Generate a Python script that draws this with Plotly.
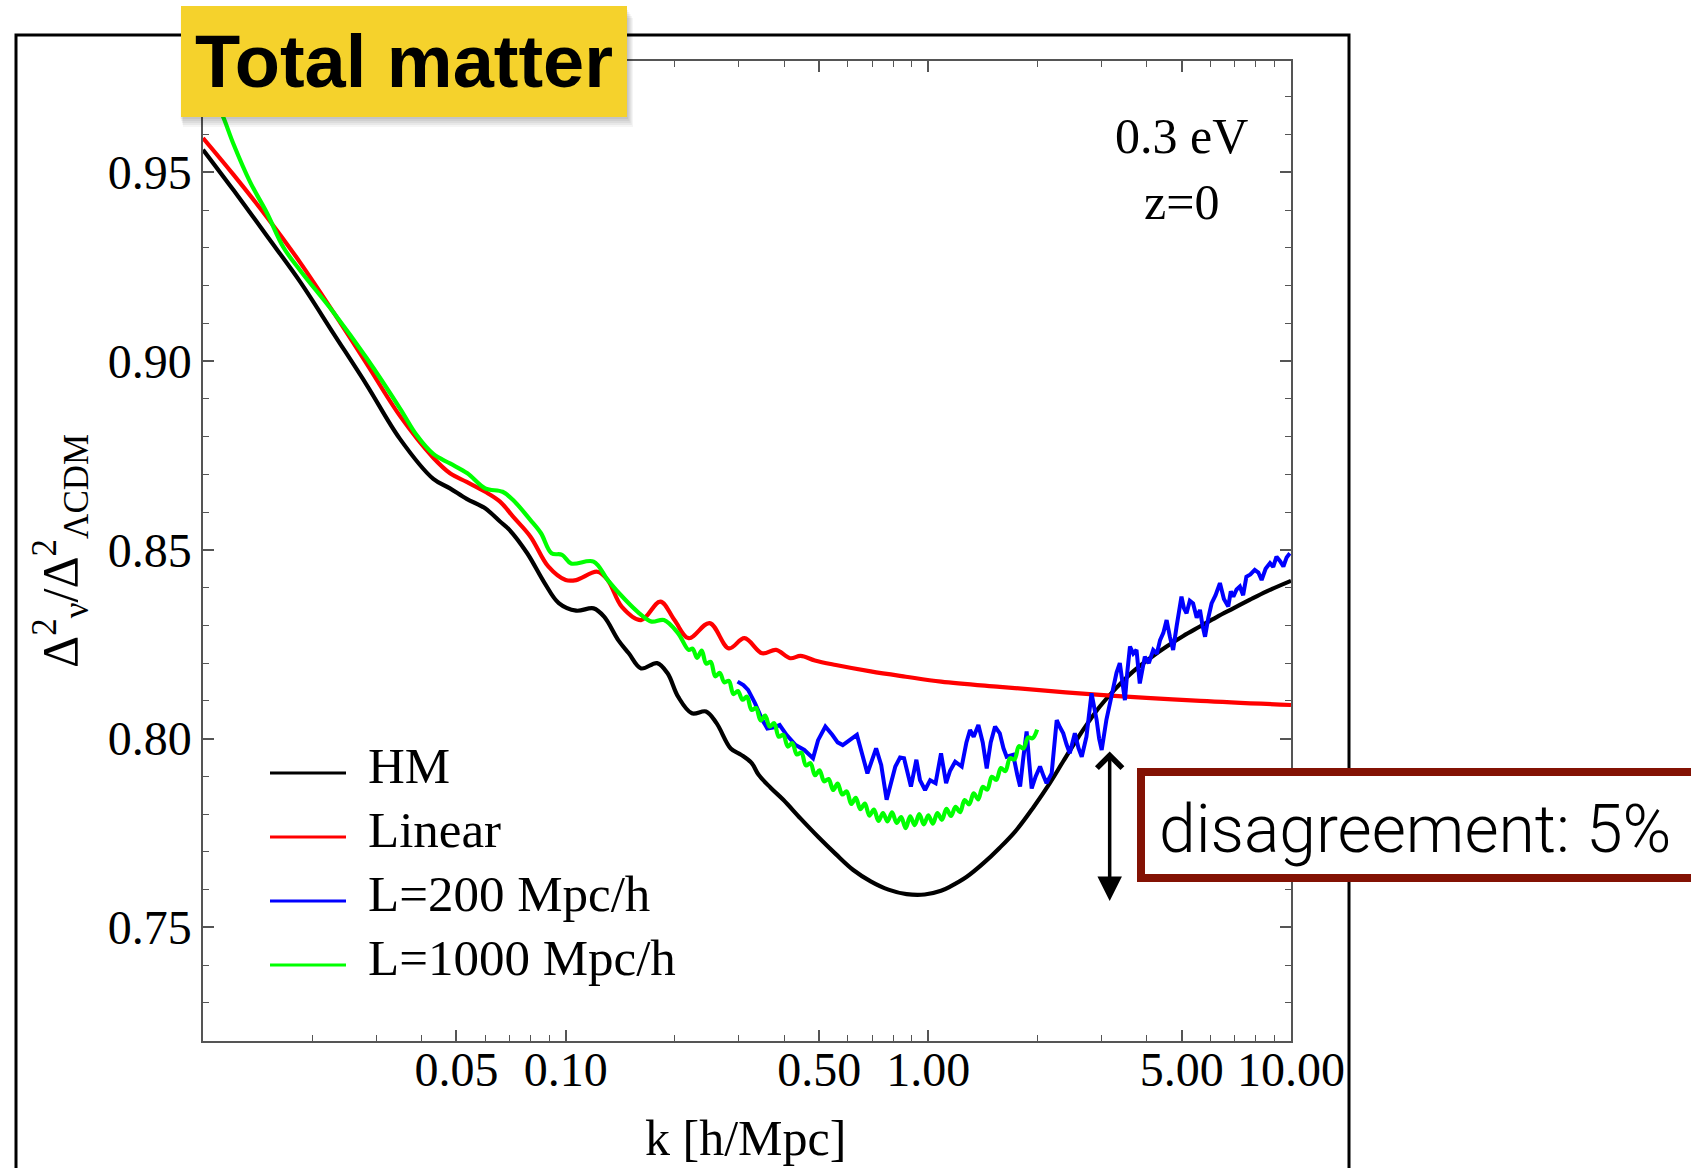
import numpy as np
import plotly.graph_objects as go

# ---- data: log10(k [h/Mpc]) and Delta^2_nu / Delta^2_LCDM ----
hm_logk = [-2.000, -1.916, -1.824, -1.732, -1.640, -1.548, -1.457, -1.365, -1.319, -1.273,
           -1.222, -1.181, -1.155, -1.106, -1.058, -1.019, -0.971, -0.923, -0.894, -0.855,
           -0.826, -0.792, -0.748, -0.719, -0.690, -0.652, -0.613, -0.584, -0.545, -0.516,
           -0.487, -0.468, -0.435, -0.400, -0.352, -0.304, -0.255, -0.207, -0.159, -0.110,
           -0.060, -0.010, 0.035, 0.060, 0.106, 0.152, 0.197, 0.243, 0.289, 0.335,
           0.372, 0.409, 0.441, 0.473, 0.519, 0.565, 0.611, 0.657, 0.703, 0.749,
           0.795, 0.841, 0.887, 0.933, 1.000]
hm_ratio = [0.9560, 0.9453, 0.9332, 0.9210, 0.9073, 0.8936, 0.8794, 0.8688, 0.8663, 0.8635,
            0.8610, 0.8575, 0.8553, 0.8491, 0.8412, 0.8359, 0.8339, 0.8345, 0.8323, 0.8261,
            0.8226, 0.8186, 0.8200, 0.8173, 0.8111, 0.8067, 0.8072, 0.8041, 0.7974, 0.7957,
            0.7935, 0.7904, 0.7870, 0.7838, 0.7788, 0.7740, 0.7694, 0.7652, 0.7622, 0.7600,
            0.7588, 0.7587, 0.7597, 0.7608, 0.7634, 0.7670, 0.7711, 0.7758, 0.7817, 0.7882,
            0.7940, 0.7997, 0.8043, 0.8085, 0.8135, 0.8178, 0.8213, 0.8244, 0.8272, 0.8297,
            0.8322, 0.8345, 0.8368, 0.8390, 0.8418]

lin_logk = [-2.000, -1.916, -1.824, -1.732, -1.640, -1.548, -1.457, -1.365, -1.319, -1.273,
            -1.222, -1.181, -1.145, -1.097, -1.048, -1.000, -0.971, -0.913, -0.884, -0.845,
            -0.792, -0.739, -0.700, -0.661, -0.603, -0.550, -0.507, -0.458, -0.420, -0.381,
            -0.352, -0.313, -0.255, -0.159, -0.062, 0.035, 0.197, 0.473, 0.750, 1.000]
lin_ratio = [0.9591, 0.9494, 0.9382, 0.9261, 0.9129, 0.8992, 0.8855, 0.8744, 0.8703, 0.8680,
             0.8654, 0.8628, 0.8588, 0.8535, 0.8456, 0.8420, 0.8420, 0.8442, 0.8420, 0.8349,
             0.8314, 0.8363, 0.8314, 0.8266, 0.8306, 0.8239, 0.8266, 0.8226, 0.8235, 0.8213,
             0.8219, 0.8207, 0.8195, 0.8178, 0.8164, 0.8151, 0.8137, 0.8116, 0.8100, 0.8089]

l200_logk = [-0.526, -0.510, -0.497, -0.478, -0.458, -0.444, -0.425, -0.410, -0.391, -0.366,
             -0.342, -0.318, -0.304, -0.284, -0.265, -0.250, -0.236, -0.215, -0.197, -0.168,
             -0.144, -0.130, -0.115, -0.091, -0.078, -0.067, -0.057, -0.048, -0.033, -0.023,
             -0.009, 0.005, 0.020, 0.035, 0.049, 0.060, 0.074, 0.092, 0.105, 0.115,
             0.125, 0.138, 0.150, 0.161, 0.172, 0.184, 0.197, 0.207, 0.216, 0.234,
             0.245, 0.253, 0.262, 0.271, 0.278, 0.285, 0.296, 0.308, 0.318, 0.326,
             0.340, 0.354, 0.363, 0.372, 0.381, 0.390, 0.404, 0.414, 0.423, 0.436,
             0.450, 0.457, 0.464, 0.471, 0.478, 0.491, 0.500, 0.510, 0.519, 0.528,
             0.535, 0.542, 0.549, 0.556, 0.565, 0.574, 0.583, 0.590, 0.597, 0.608,
             0.620, 0.630, 0.639, 0.648, 0.657, 0.666, 0.675, 0.685, 0.698, 0.705,
             0.712, 0.721, 0.730, 0.740, 0.749, 0.756, 0.763, 0.772, 0.781, 0.792,
             0.804, 0.815, 0.827, 0.834, 0.841, 0.850, 0.859, 0.868, 0.877, 0.888,
             0.900, 0.910, 0.919, 0.930, 0.942, 0.951, 0.960, 0.970, 0.979, 0.988,
             0.997]
l200_ratio = [0.8151, 0.8142, 0.8129, 0.8094, 0.8050, 0.8027, 0.8030, 0.8036, 0.8010, 0.7983,
              0.7970, 0.7948, 0.7996, 0.8032, 0.8010, 0.7990, 0.7983, 0.7998, 0.8010, 0.7908,
              0.7974, 0.7930, 0.7838, 0.7926, 0.7950, 0.7948, 0.7905, 0.7873, 0.7944, 0.7890,
              0.7864, 0.7890, 0.7882, 0.7961, 0.7882, 0.7915, 0.7939, 0.7926, 0.7990, 0.8023,
              0.8005, 0.8036, 0.7990, 0.7921, 0.7990, 0.8032, 0.8014, 0.7975, 0.7952, 0.7957,
              0.7905, 0.7873, 0.7950, 0.8019, 0.7940, 0.7868, 0.7900, 0.7926, 0.7900, 0.7882,
              0.7908, 0.8049, 0.8030, 0.8014, 0.7985, 0.7961, 0.8014, 0.7975, 0.7952, 0.8005,
              0.8120, 0.8085, 0.8050, 0.8000, 0.7970, 0.8050, 0.8090, 0.8138, 0.8175, 0.8200,
              0.8150, 0.8102, 0.8180, 0.8244, 0.8225, 0.8235, 0.8146, 0.8190, 0.8217, 0.8200,
              0.8235, 0.8225, 0.8261, 0.8280, 0.8314, 0.8270, 0.8235, 0.8300, 0.8376, 0.8345,
              0.8332, 0.8365, 0.8358, 0.8320, 0.8341, 0.8300, 0.8270, 0.8320, 0.8358, 0.8380,
              0.8412, 0.8370, 0.8350, 0.8390, 0.8376, 0.8395, 0.8403, 0.8380, 0.8429, 0.8435,
              0.8447, 0.8440, 0.8420, 0.8450, 0.8465, 0.8455, 0.8482, 0.8470, 0.8456, 0.8480,
              0.8491]

l1000_logk = [-2.000, -1.970, -1.944, -1.916, -1.870, -1.824, -1.778, -1.732, -1.640, -1.548,
              -1.457, -1.411, -1.365, -1.319, -1.271, -1.222, -1.174, -1.145, -1.097, -1.068,
              -1.039, -1.010, -0.985, -0.923, -0.884, -0.835, -0.797, -0.763, -0.729, -0.690,
              -0.661,
              -0.6500, -0.6375, -0.6250, -0.6125, -0.6000, -0.5875, -0.5750, -0.5625, -0.5500, -0.5375,
              -0.5250, -0.5125, -0.5000, -0.4875, -0.4750, -0.4625, -0.4500, -0.4375, -0.4250, -0.4125,
              -0.4000, -0.3875, -0.3750, -0.3625, -0.3500, -0.3375, -0.3250, -0.3125, -0.3000, -0.2875,
              -0.2750, -0.2625, -0.2500, -0.2375, -0.2250, -0.2125, -0.2000, -0.1875, -0.1750, -0.1625,
              -0.1500, -0.1375, -0.1250, -0.1125, -0.1000, -0.0875, -0.0750, -0.0625, -0.0500, -0.0375,
              -0.0250, -0.0125, 0.0000, 0.0125, 0.0250, 0.0375, 0.0500, 0.0625, 0.0750, 0.0875,
              0.1000, 0.1125, 0.1250, 0.1375, 0.1500, 0.1625, 0.1750, 0.1875, 0.2000, 0.2125,
              0.2250, 0.2375, 0.2500, 0.2625, 0.2750, 0.2875, 0.3000]
l1000_ratio = [0.9775, 0.9700, 0.9646, 0.9575, 0.9474, 0.9393, 0.9301, 0.9240, 0.9129, 0.9007,
               0.8875, 0.8804, 0.8754, 0.8729, 0.8703, 0.8663, 0.8654, 0.8632, 0.8579, 0.8544,
               0.8491, 0.8487, 0.8464, 0.8469, 0.8420, 0.8367, 0.8332, 0.8310, 0.8314, 0.8279,
               0.8235,
               0.8238, 0.8214, 0.8233, 0.8199, 0.8203, 0.8165, 0.8174, 0.8149, 0.8153, 0.8118,
               0.8126, 0.8103, 0.8111, 0.8076, 0.8081, 0.8048, 0.8061, 0.8032, 0.8041, 0.8005,
               0.8010, 0.7979, 0.7988, 0.7958, 0.7963, 0.7929, 0.7935, 0.7903, 0.7916, 0.7887,
               0.7893, 0.7864, 0.7881, 0.7852, 0.7860, 0.7827, 0.7843, 0.7813, 0.7828, 0.7796,
               0.7812, 0.7782, 0.7803, 0.7781, 0.7805, 0.7777, 0.7792, 0.7763, 0.7794, 0.7771,
               0.7800, 0.7773, 0.7797, 0.7775, 0.7803, 0.7785, 0.7814, 0.7795, 0.7819, 0.7805,
               0.7837, 0.7826, 0.7855, 0.7839, 0.7872, 0.7865, 0.7899, 0.7891, 0.7922, 0.7914,
               0.7948, 0.7945, 0.7980, 0.7974, 0.8003, 0.8001, 0.8024]

series_names = ["HM", "Linear", "L=200 Mpc/h", "L=1000 Mpc/h"]
series_colors = ["#000000", "#ff0000", "#0000ff", "#00ff00"]

x_tick_vals = [0.05, 0.1, 0.5, 1, 5, 10]
x_tick_text = ["0.05", "0.10", "0.50", "1.00", "5.00", "10.00"]
x_minor_vals = [0.02, 0.03, 0.04, 0.06, 0.07, 0.08, 0.09,
                0.2, 0.3, 0.4, 0.6, 0.7, 0.8, 0.9,
                2, 3, 4, 6, 7, 8, 9]
y_tick_vals = [0.75, 0.80, 0.85, 0.90, 0.95]
y_tick_text = ["0.75", "0.80", "0.85", "0.90", "0.95"]
y_minor_vals = [0.72, 0.73, 0.74, 0.76, 0.77, 0.78, 0.79, 0.81, 0.82, 0.83, 0.84,
                0.86, 0.87, 0.88, 0.89, 0.91, 0.92, 0.93, 0.94, 0.96, 0.97]

mass_label = "0.3 eV"
redshift_label = "z=0"
panel_title = "Total matter"
note_text = "disagreement: 5%"
arrow_k_log = 0.5
arrow_top, arrow_bottom = 0.797, 0.757

# ---- page geometry (pixels) ----
W, H = 1691, 1168
PL, PR, PT, PB = 203, 1291, 61, 1041


def px(X):
    return (X - PL) / (PR - PL)


def py(Y):
    return (PB - Y) / (PB - PT)


SERIF = "Liberation Serif, Times New Roman, serif"
SANS = "Liberation Sans, Arial, sans-serif"
LIGHT = "Roboto, Lato, sans-serif"
AXIS_GRAY = "#555555"

fig = go.Figure()

curves = [(hm_logk, hm_ratio, "spline", 4.2), (lin_logk, lin_ratio, "spline", 4.2),
          (l200_logk, l200_ratio, "linear", 4.0), (l1000_logk, l1000_ratio, "spline", 4.2)]
for (lk, r, shp, lw), name, col in zip(curves, series_names, series_colors):
    fig.add_trace(go.Scatter(
        x=10 ** np.array(lk), y=r, mode="lines", name=name, showlegend=False,
        line=dict(color=col, width=lw, shape=shp, smoothing=1.0),
        hoverinfo="skip"))

axis_common = dict(
    showline=True, linecolor=AXIS_GRAY, linewidth=1.5, mirror="ticks",
    ticks="inside", ticklen=11, tickwidth=1.5, tickcolor=AXIS_GRAY,
    showgrid=False, zeroline=False, tickmode="array",
    tickfont=dict(family=SERIF, size=48, color="black"),
)

fig.update_layout(
    width=W, height=H, autosize=False,
    margin=dict(l=PL, r=W - PR, t=PT, b=H - PB, pad=0),
    paper_bgcolor="white", plot_bgcolor="white",
    xaxis=dict(type="log", range=[-2, 1], tickvals=x_tick_vals, ticktext=x_tick_text,
               ticklabelstandoff=-14,
               minor=dict(tickmode="array", tickvals=x_minor_vals, ticks="inside",
                          ticklen=6, tickwidth=1.2, tickcolor=AXIS_GRAY, showgrid=False),
               **axis_common),
    yaxis=dict(range=[0.7199, 0.9795], tickvals=y_tick_vals, ticktext=y_tick_text,
               ticklabelstandoff=0,
               minor=dict(tickmode="array", tickvals=y_minor_vals, ticks="inside",
                          ticklen=6, tickwidth=1.2, tickcolor=AXIS_GRAY, showgrid=False),
               **axis_common),
)

shapes = []
# outer frame around the panel
shapes.append(dict(type="rect", xref="paper", yref="paper",
                   x0=px(16), x1=px(1349), y0=py(1250), y1=py(35),
                   line=dict(color="black", width=3), fillcolor="rgba(0,0,0,0)", layer="below"))
# soft shadow under the title badge
for i, a in enumerate([0.05, 0.05, 0.05, 0.05, 0.04]):
    o = 2 * (i + 1)
    shapes.append(dict(type="rect", xref="paper", yref="paper",
                       x0=px(181 - 1 + o * 0.3), x1=px(627 + o * 0.6),
                       y0=py(117 + o), y1=py(8 + o),
                       line=dict(width=0), fillcolor=f"rgba(0,0,0,{a})", layer="above"))
# title badge
shapes.append(dict(type="rect", xref="paper", yref="paper",
                   x0=px(181), x1=px(627), y0=py(117), y1=py(6),
                   line=dict(width=0), fillcolor="#f5d22c", layer="above"))
# note box
shapes.append(dict(type="rect", xref="paper", yref="paper",
                   x0=px(1141), x1=px(1760), y0=py(878), y1=py(772),
                   line=dict(color="#831204", width=8), fillcolor="white", layer="above"))
# legend key lines
legend_line_y = [773, 837, 901, 965]
for yy, col in zip(legend_line_y, series_colors):
    shapes.append(dict(type="line", xref="paper", yref="paper",
                       x0=px(270), x1=px(346), y0=py(yy), y1=py(yy),
                       line=dict(color=col, width=3), layer="above"))

annotations = []
annotations.append(dict(xref="paper", yref="paper", x=px(404), y=py(61.5),
                        text=f"<b>{panel_title}</b>", showarrow=False,
                        xanchor="center", yanchor="middle",
                        font=dict(family=SANS, size=74, color="black")))
annotations.append(dict(xref="paper", yref="paper", x=px(1181), y=py(136),
                        text=mass_label, showarrow=False, xanchor="center", yanchor="middle",
                        font=dict(family=SERIF, size=50, color="black")))
annotations.append(dict(xref="paper", yref="paper", x=px(1181), y=py(202),
                        text=redshift_label, showarrow=False, xanchor="center", yanchor="middle",
                        font=dict(family=SERIF, size=50, color="black")))
legend_text_y = [766, 830, 894, 958]
for yy, name in zip(legend_text_y, series_names):
    annotations.append(dict(xref="paper", yref="paper", x=px(366), y=py(yy),
                            text=name, showarrow=False, xanchor="left", yanchor="middle",
                            font=dict(family=SERIF, size=51, color="black")))
annotations.append(dict(xref="paper", yref="paper", x=px(60), y=py(551),
                        text="Δ<sup>2</sup><sub>ν</sub>/Δ<sup>2</sup><sub>ΛCDM</sub>",
                        textangle=-90, showarrow=False, xanchor="center", yanchor="middle",
                        font=dict(family=SERIF, size=50, color="black")))
annotations.append(dict(xref="paper", yref="paper", x=px(745), y=py(1138),
                        text="k [h/Mpc]", showarrow=False, xanchor="center", yanchor="middle",
                        font=dict(family=SERIF, size=50, color="black")))
annotations.append(dict(xref="paper", yref="paper", x=px(1157), y=py(829),
                        text=note_text, showarrow=False, xanchor="left", yanchor="middle",
                        font=dict(family=LIGHT, size=66, color="black", weight=300)))
# double-headed arrow marking the gap at k ~ 3 h/Mpc
annotations.append(dict(x=arrow_k_log, y=arrow_bottom, ax=arrow_k_log, ay=arrow_top,
                        xref="x", yref="y", axref="x", ayref="y", text="",
                        showarrow=True, arrowside="end+start",
                        arrowhead=2, startarrowhead=4, arrowsize=1.4, startarrowsize=1.4,
                        arrowwidth=3.5, arrowcolor="black"))

fig.update_layout(shapes=shapes, annotations=annotations)
fig.write_html("out.html")
